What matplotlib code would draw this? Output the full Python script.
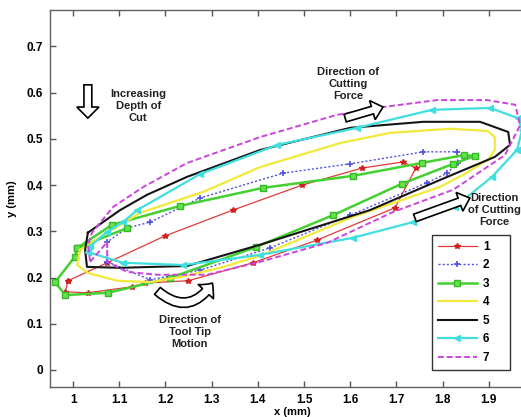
import matplotlib
matplotlib.use("Agg")
import matplotlib.pyplot as plt
from matplotlib.patches import FancyArrow, FancyArrowPatch, ArrowStyle

plt.rcParams['font.family'] = ['Liberation Sans', 'DejaVu Sans']
plt.rcParams['font.weight'] = 'bold'

# ---- data (mm) ----
x1 = [0.989, 1.074, 1.199, 1.346, 1.496, 1.626, 1.714, 1.742, 1.697, 1.528, 1.390, 1.249, 1.155, 1.128, 1.032, 0.983, 0.989]
y1 = [0.193, 0.232, 0.290, 0.346, 0.400, 0.437, 0.450, 0.437, 0.351, 0.281, 0.232, 0.193, 0.188, 0.180, 0.167, 0.169, 0.193]

x2 = [1.074, 1.167, 1.275, 1.426, 1.600, 1.766, 1.810, 1.833, 1.831, 1.758, 1.600, 1.455, 1.275, 1.167, 1.117, 1.074, 1.074]
y2 = [0.234, 0.195, 0.216, 0.264, 0.335, 0.405, 0.426, 0.448, 0.472, 0.472, 0.446, 0.426, 0.372, 0.320, 0.307, 0.277, 0.234]

x3 = [1.117, 1.009, 1.004, 0.961, 0.983, 1.076, 1.210, 1.396, 1.563, 1.712, 1.823, 1.870, 1.846, 1.755, 1.606, 1.411, 1.232, 1.084, 1.009]
y3 = [0.307, 0.264, 0.245, 0.190, 0.162, 0.167, 0.199, 0.266, 0.335, 0.403, 0.446, 0.463, 0.465, 0.448, 0.420, 0.394, 0.355, 0.314, 0.264]

x4 = [1.015, 1.009, 1.032, 1.095, 1.167, 1.232, 1.318, 1.405, 1.600, 1.794, 1.848, 1.898, 1.913, 1.913, 1.898, 1.816, 1.686, 1.578, 1.405, 1.281, 1.145, 1.074, 1.015]
y4 = [0.260, 0.227, 0.210, 0.193, 0.190, 0.201, 0.221, 0.247, 0.329, 0.396, 0.424, 0.455, 0.476, 0.504, 0.517, 0.522, 0.513, 0.491, 0.439, 0.385, 0.340, 0.297, 0.260]

x5 = [1.032, 1.026, 1.030, 1.102, 1.247, 1.405, 1.643, 1.794, 1.913, 1.946, 1.942, 1.881, 1.758, 1.600, 1.405, 1.247, 1.160, 1.102, 1.032]
y5 = [0.297, 0.260, 0.223, 0.221, 0.225, 0.271, 0.346, 0.411, 0.461, 0.487, 0.515, 0.537, 0.537, 0.524, 0.476, 0.418, 0.379, 0.346, 0.297]

x6 = [1.032, 1.108, 1.238, 1.405, 1.606, 1.736, 1.827, 1.907, 1.961, 1.972, 1.963, 1.903, 1.777, 1.615, 1.442, 1.275, 1.139, 1.108, 1.074, 1.037, 1.032]
y6 = [0.255, 0.232, 0.227, 0.249, 0.286, 0.320, 0.353, 0.418, 0.476, 0.519, 0.545, 0.567, 0.563, 0.524, 0.487, 0.424, 0.346, 0.320, 0.299, 0.268, 0.255]

x7 = [1.037, 1.074, 1.074, 1.117, 1.182, 1.290, 1.405, 1.550, 1.693, 1.823, 1.935, 1.968, 1.957, 1.896, 1.788, 1.671, 1.571, 1.405, 1.247, 1.152, 1.087, 1.041, 1.032, 1.037]
y7 = [0.234, 0.277, 0.234, 0.212, 0.206, 0.206, 0.234, 0.275, 0.342, 0.390, 0.465, 0.530, 0.574, 0.584, 0.584, 0.569, 0.552, 0.504, 0.448, 0.396, 0.353, 0.297, 0.271, 0.234]

labels = ['1', '2', '3', '4', '5', '6', '7']
xticks = [1, 1.1, 1.2, 1.3, 1.4, 1.5, 1.6, 1.7, 1.8, 1.9]
xticklabels = ['1', '1.1', '1.2', '1.3', '1.4', '1.5', '1.6', '1.7', '1.8', '1.9']
yticks = [0, 0.1, 0.2, 0.3, 0.4, 0.5, 0.6, 0.7]
yticklabels = ['0', '0.1', '0.2', '0.3', '0.4', '0.5', '0.6', '0.7']

fig = plt.figure(figsize=(5.21, 4.17), dpi=100)
ax = fig.add_axes([50/521, 30/417, 485/521, 377/417])

ax.plot(x1, y1, color='#e03a3a', lw=0.9, marker='*', ms=4, mfc='#d02020', mec='#d02020', label=labels[0])
ax.plot(x2, y2, color='#5050e0', lw=1.0, ls=(0, (1.5, 1.5)), marker='+', ms=5, mew=1.2, label=labels[1])
ax.plot(x3, y3, color='#44d030', lw=1.8, marker='s', ms=4.5, mfc='#66e050', mec='#33bb22', label=labels[2])
ax.plot(x4, y4, color='#f2ea3a', lw=1.6, label=labels[3])
ax.plot(x5, y5, color='#151515', lw=1.5, label=labels[4])
ax.plot(x6, y6, color='#40dede', lw=1.6, marker='<', ms=4, label=labels[5])
ax.plot(x7, y7, color='#cc44dd', lw=1.4, ls=(0, (3, 1.5)), label=labels[6])

ax.set_xlim(0.95, 2.0)
ax.set_ylim(-0.037, 0.779)
ax.set_xticks(xticks)
ax.set_xticklabels(xticklabels)
ax.set_yticks(yticks)
ax.set_yticklabels(yticklabels)
ax.tick_params(direction='in', length=4, width=1, color='#555555', labelsize=8.5,
               top=True, right=False, pad=5)
for lab in ax.get_xticklabels() + ax.get_yticklabels():
    lab.set_fontweight('bold')
for s in ax.spines.values():
    s.set_color('#606060')
    s.set_linewidth(1.0)

ax.set_xlabel('x (mm)', fontsize=8, fontweight='bold', labelpad=1)
ax.set_ylabel('y (mm)', fontsize=8, fontweight='bold', labelpad=7)

tkw = dict(fontsize=8, fontweight='bold', ha='center', va='center', linespacing=1.3, color='#222222')
ax.text(1.141, 0.571, 'Increasing\nDepth of\nCut', **tkw)
ax.text(1.595, 0.619, 'Direction of\nCutting\nForce', **tkw)
ax.text(1.912, 0.346, 'Direction\nof Cutting\nForce', **tkw)
ax.text(1.253, 0.082, 'Direction of\nTool Tip\nMotion', **tkw)

akw = dict(length_includes_head=True, fc='white', ec='black', lw=1.2, zorder=5)
ax.add_patch(FancyArrow(1.032, 0.617, 0, -0.072, width=0.017, head_width=0.048, head_length=0.024, **akw))
ax.add_patch(FancyArrow(1.589, 0.545, 0.082, 0.024, width=0.017, head_width=0.043, head_length=0.024, **akw))
ax.add_patch(FancyArrow(1.740, 0.329, 0.119, 0.043, width=0.017, head_width=0.043, head_length=0.024, **akw))

curved = FancyArrowPatch((1.178, 0.175), (1.305, 0.193),
                         connectionstyle='arc3,rad=0.6',
                         arrowstyle=ArrowStyle.Simple(head_length=0.6, head_width=1.15, tail_width=0.5),
                         mutation_scale=13, fc='white', ec='black', lw=1.2, zorder=5)
ax.add_patch(curved)

leg = ax.legend(loc='upper left',
                bbox_to_anchor=(432/521, 1 - 357/417, 78/521, 122/417),
                bbox_transform=fig.transFigure, mode='expand',
                borderaxespad=0, prop={'weight': 'bold', 'size': 8.5},
                handlelength=3.3, labelspacing=0.55, handletextpad=0.5, borderpad=0.5,
                fancybox=False, framealpha=1, edgecolor='#333333')
leg.get_frame().set_linewidth(1.0)

fig.savefig('out.png', dpi=100)
